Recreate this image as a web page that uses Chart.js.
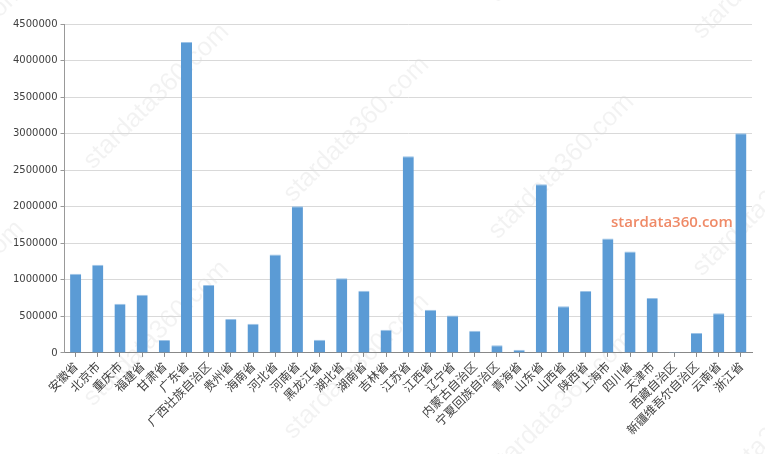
<!DOCTYPE html>
<html>
<head>
<meta charset="utf-8">
<script src="https://cdn.jsdelivr.net/npm/chart.js@4/dist/chart.umd.min.js"></script>
<style>
  html, body { margin: 0; padding: 0; background: #fff; }
  #wrap { width: 765px; height: 454px; position: relative; }
</style>
</head>
<body>
<div id="wrap"><canvas id="c" width="765" height="454"></canvas></div>
<script>
const categories = ["安徽省","北京市","重庆市","福建省","甘肃省","广东省","广西壮族自治区","贵州省","海南省","河北省","河南省","黑龙江省","湖北省","湖南省","吉林省","江苏省","江西省","辽宁省","内蒙古自治区","宁夏回族自治区","青海省","山东省","山西省","陕西省","上海市","四川省","天津市","西藏自治区","新疆维吾尔自治区","云南省","浙江省"];
const values = [1085000, 1205000, 672000, 795000, 176000, 4255000, 930000, 463000, 398000, 1346000, 2006000, 182000, 1021000, 852000, 317000, 2692000, 590000, 512000, 302000, 105000, 45000, 2308000, 640000, 848000, 1567000, 1388000, 752000, 12000, 272000, 542000, 3004000];
const yTicks = [0, 500000, 1000000, 1500000, 2000000, 2500000, 3000000, 3500000, 4000000, 4500000];
const watermarkText = "stardata360.com";

const watermarkPlugin = {
  id: 'wm',
  beforeDraw(chart) {
    const ctx = chart.ctx;
    ctx.save();
    ctx.font = '26px "Liberation Sans", "DejaVu Sans", sans-serif';
    ctx.fillStyle = 'rgba(0,0,0,0.05)';
    ctx.textBaseline = 'alphabetic';
    const cols = [[-112, 130], [93, 170], [293, 203], [498, 240], [702, 277]];
    cols.forEach(([x, y0]) => {
      for (let k = -1; k <= 1; k++) {
        ctx.save();
        ctx.translate(x, y0 + k * 237);
        ctx.rotate(-Math.PI / 4);
        ctx.fillText(watermarkText, 0, 0);
        ctx.restore();
      }
    });
    ctx.restore();
  },
  afterDraw(chart) {
    const ctx = chart.ctx;
    ctx.save();
    ctx.font = '600 15px "Open Sans", "DejaVu Sans", sans-serif';
    ctx.fillStyle = '#ef8a67';
    ctx.textBaseline = 'alphabetic';
    ctx.textAlign = 'left';
    ctx.fillText(watermarkText, 611, 227);
    ctx.restore();
  }
};

new Chart(document.getElementById('c'), {
  type: 'bar',
  data: {
    labels: categories,
    datasets: [{
      data: values,
      backgroundColor: '#5b9bd5',
      borderColor: '#9dc3e6',
      borderWidth: { top: 1, left: 0, right: 0, bottom: 0 },
      barPercentage: 0.5,
      categoryPercentage: 1.0,
      minBarLength: 1
    }]
  },
  options: {
    responsive: false,
    animation: false,
    devicePixelRatio: 1,
    layout: { padding: { left: 10, right: 13, top: 24, bottom: 15 } },
    plugins: { legend: { display: false }, tooltip: { enabled: false } },
    scales: {
      x: {
        offset: true,
        grid: { display: true, drawOnChartArea: false, offset: false, tickLength: 4, color: '#888888' },
        border: { display: true, color: '#888888', width: 1 },
        ticks: {
          autoSkip: false,
          minRotation: 45,
          maxRotation: 45,
          padding: 2,
          color: '#404040',
          font: { family: '"Noto Sans CJK SC", sans-serif', size: 12 }
        }
      },
      y: {
        min: 0,
        max: 4500000,
        afterBuildTicks(scale) { scale.ticks = yTicks.map(v => ({ value: v })); },
        grid: { color: '#d9d9d9', tickLength: 4, tickColor: '#999999' },
        border: { display: true, color: '#999999', width: 1 },
        ticks: {
          padding: 3,
          color: '#404040',
          font: { family: '"DejaVu Sans", sans-serif', size: 10 },
          callback: (v) => String(v)
        }
      }
    }
  },
  plugins: [watermarkPlugin]
});
</script>
</body>
</html>
